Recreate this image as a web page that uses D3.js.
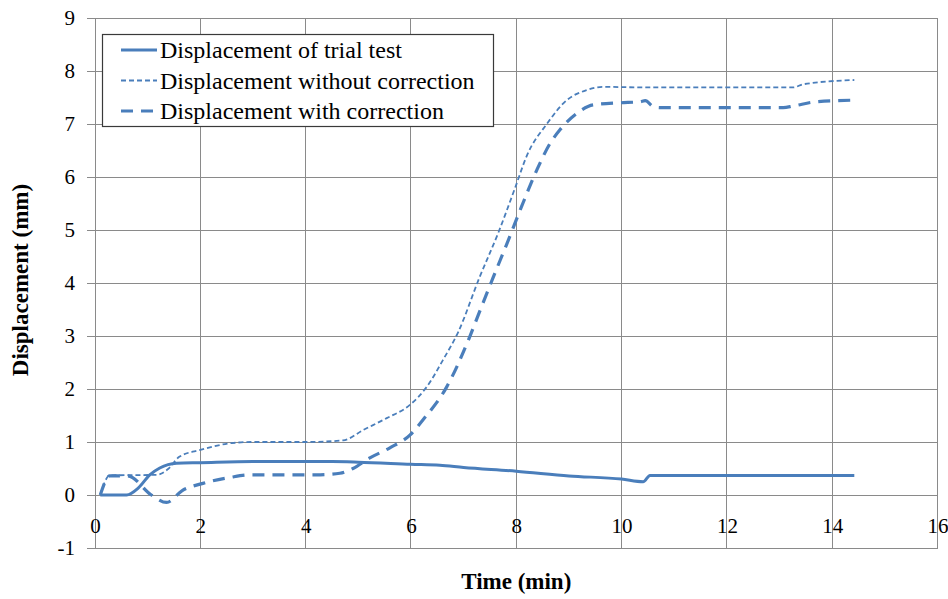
<!DOCTYPE html>
<html>
<head>
<meta charset="utf-8">
<script src="https://cdn.jsdelivr.net/npm/d3@7"></script>
<style>
  html, body { margin: 0; padding: 0; background: #fff; }
  svg { display: block; }
</style>
</head>
<body>
<svg id="chart" width="948" height="599"></svg>
<script>
// ---- data ----
const xTicks = [0, 2, 4, 6, 8, 10, 12, 14, 16];
const yTicks = [-1, 0, 1, 2, 3, 4, 5, 6, 7, 8, 9];
const seriesNames = ["Displacement of trial test", "Displacement without correction", "Displacement with correction"];
const xTitle = "Time (min)";
const yTitle = "Displacement (mm)";

const trialTime = [0.1, 0.6, 0.82, 1.04, 1.23, 1.55, 2.0, 3.0, 4.0, 4.5, 5.0, 6.0, 6.55, 7.0, 8.0, 9.0, 10.0, 10.41, 10.54, 14.42];
const trialDisp = [0, 0, 0.13, 0.38, 0.51, 0.6, 0.61, 0.63, 0.63, 0.63, 0.62, 0.58, 0.56, 0.52, 0.45, 0.36, 0.3, 0.25, 0.37, 0.37];

const noCorrTime = [0.1, 0.28, 1.17, 1.4, 1.6, 2.0, 2.6, 3.0, 4.0, 4.71, 5.1, 5.54, 5.98, 6.3, 6.61, 6.9, 7.3, 7.66, 7.98, 8.2, 8.58, 8.96, 9.34, 9.65, 10.5, 12.0, 13.26, 13.45, 14.42];
const noCorrDisp = [0, 0.37, 0.38, 0.5, 0.72, 0.85, 0.98, 1.0, 1.0, 1.03, 1.23, 1.45, 1.7, 2.04, 2.55, 3.08, 4.1, 4.95, 5.8, 6.4, 7.0, 7.45, 7.64, 7.7, 7.69, 7.69, 7.69, 7.75, 7.83];

const corrTime = [0.1, 0.28, 0.62, 1.07, 1.36, 1.65, 2.05, 2.56, 2.94, 4.2, 4.65, 4.9, 5.22, 5.6, 5.98, 6.23, 6.68, 7.09, 7.3, 7.56, 7.85, 8.1, 8.39, 8.64, 8.83, 9.15, 9.46, 9.97, 10.35, 10.45, 10.6, 10.73, 13.07, 13.26, 13.7, 14.42];
const corrDisp = [0, 0.36, 0.36, 0.0, -0.14, 0.08, 0.22, 0.33, 0.38, 0.38, 0.41, 0.5, 0.7, 0.89, 1.13, 1.42, 2.04, 2.92, 3.45, 4.1, 4.81, 5.44, 6.13, 6.63, 6.89, 7.2, 7.36, 7.4, 7.42, 7.44, 7.33, 7.31, 7.31, 7.34, 7.42, 7.45];

// ---- chart ----
const svg = d3.select("#chart");
const blue = "#4a7ebb";
const grid = "#8a8a8a";
const SERIF = "Liberation Serif";

const x = d3.scaleLinear().domain([0, 16]).range([95, 937.5]);
const y = d3.scaleLinear().domain([-1, 9]).range([548, 18]);

// gridlines
const g = svg.append("g");
g.selectAll("line.h").data(yTicks).enter().append("line")
  .attr("x1", x(0)).attr("x2", x(16))
  .attr("y1", d => y(d)).attr("y2", d => y(d))
  .attr("stroke", grid).attr("stroke-width", 1).attr("shape-rendering", "crispEdges");
g.selectAll("line.v").data(xTicks).enter().append("line")
  .attr("x1", d => x(d)).attr("x2", d => x(d))
  .attr("y1", y(9)).attr("y2", y(-1))
  .attr("stroke", grid).attr("stroke-width", 1).attr("shape-rendering", "crispEdges");

// y axis
const yAxis = svg.append("g").attr("transform", `translate(${x(0)},0)`)
  .call(d3.axisLeft(y).tickValues(yTicks).tickSize(8).tickSizeOuter(0).tickPadding(12).tickFormat(d => String(d)));
yAxis.attr("font-family", SERIF).attr("font-size", 21);
yAxis.selectAll("path, line").attr("stroke", grid).attr("shape-rendering", "crispEdges");
yAxis.selectAll("text").attr("font-family", SERIF).attr("font-size", 21).attr("fill", "#000");

// x axis at y = 0
const xAxis = svg.append("g").attr("transform", `translate(0,${y(0)})`)
  .call(d3.axisBottom(x).tickValues(xTicks).tickSize(0).tickSizeOuter(0).tickPadding(23).tickFormat(d => String(d)));
xAxis.attr("font-family", SERIF).attr("font-size", 21);
xAxis.selectAll("path, line").attr("stroke", grid).attr("shape-rendering", "crispEdges");
xAxis.selectAll("text").attr("font-family", SERIF).attr("font-size", 21).attr("fill", "#000");

// lines
const line = d3.line().x(d => x(d[0])).y(d => y(d[1])).curve(d3.curveMonotoneX);
const zip = (a, b) => a.map((t, i) => [t, b[i]]);

const styles = [
  { w: 3, dash: null },
  { w: 1.8, dash: "5,3" },
  { w: 3.2, dash: "12,8" }
];
const data = [zip(trialTime, trialDisp), zip(noCorrTime, noCorrDisp), zip(corrTime, corrDisp)];

data.forEach((d, i) => {
  svg.append("path").datum(d)
    .attr("d", line)
    .attr("fill", "none")
    .attr("stroke", blue)
    .attr("stroke-width", styles[i].w)
    .attr("stroke-dasharray", styles[i].dash)
    .attr("stroke-linejoin", "round");
});

// legend
const lg = svg.append("g");
lg.append("rect").attr("x", 102.5).attr("y", 34.5).attr("width", 391).attr("height", 92)
  .attr("fill", "#fff").attr("stroke", "#3a3a3a").attr("stroke-width", 1.2);
const rowY = [50, 80.5, 111];
seriesNames.forEach((name, i) => {
  lg.append("line").attr("x1", 121).attr("x2", 157).attr("y1", rowY[i]).attr("y2", rowY[i])
    .attr("stroke", blue).attr("stroke-width", styles[i].w).attr("stroke-dasharray", styles[i].dash);
  lg.append("text").attr("x", 160).attr("y", rowY[i] + 8)
    .attr("font-family", SERIF).attr("font-size", 24).attr("fill", "#000").text(name);
});

// axis titles
svg.append("text").attr("x", x(8)).attr("y", 589).attr("text-anchor", "middle")
  .attr("font-family", SERIF).attr("font-size", 23).attr("font-weight", "bold").attr("fill", "#000").text(xTitle);
svg.append("text").attr("transform", `translate(28,280) rotate(-90)`).attr("text-anchor", "middle")
  .attr("font-family", SERIF).attr("font-size", 23).attr("font-weight", "bold").attr("fill", "#000").text(yTitle);
</script>
</body>
</html>
